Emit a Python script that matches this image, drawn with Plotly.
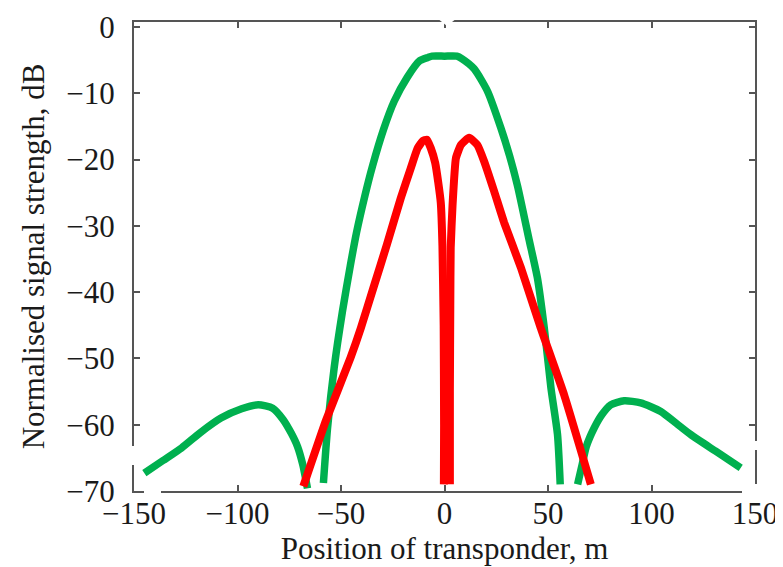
import plotly.graph_objects as go

# ---- data ----
green_left_x = [-145, -136, -127, -118, -108, -98, -90, -83, -78, -74, -71, -68.5, -66.2]
green_left_y = [-67.3, -65.4, -63.5, -61.2, -59.0, -57.6, -57.0, -57.5, -59.2, -61.3, -63.3, -66.0, -69.6]

green_main_x = [-58.5, -56.5, -53.3, -49.3, -45.5, -42.5, -38.5, -34.8, -29.5, -24.3, -18.0, -12.0, -8.0,
                -6.0, 0.0, 6.0, 8.5, 14.3, 20.8, 27.2, 31.5, 35.3, 40.8, 44.9, 48.2, 51.4, 54.6, 55.9]
green_main_y = [-68.8, -60.5, -51.4, -42.9, -36.0, -31.0, -25.5, -21.0, -15.5, -11.2, -7.6, -5.1, -4.6,
                -4.4, -4.4, -4.4, -4.8, -6.3, -9.7, -15.2, -19.5, -24.0, -32.0, -37.9, -45.4, -54.4, -61.5, -69.0]

green_right_x = [64.3, 66.5, 68.5, 72.3, 76.0, 80.3, 86.8, 94.8, 104.5, 112.0, 119.0, 131.0, 143.1]
green_right_y = [-69.0, -66.0, -63.3, -60.5, -58.5, -57.0, -56.4, -56.7, -58.0, -59.8, -61.5, -64.0, -66.5]

red_left_x = [-68.2, -57.3, -45.4, -40.4, -34.0, -27.8, -21.1, -16.3, -13.0, -10.5, -8.5, -6.6, -4.5,
              -3.0, -1.8, -1.0, -0.4, -0.2, -0.3]
red_left_y = [-69.3, -59.4, -49.9, -45.4, -39.0, -32.8, -25.8, -21.3, -18.3, -17.2, -17.0, -18.3, -20.5,
              -23.5, -26.5, -33.0, -45.0, -60.0, -69.0]

red_right_x = [2.6, 2.6, 2.8, 3.0, 3.9, 5.5, 7.9, 11.9, 15.9, 19.2, 24.0, 28.8, 36.9, 46.5, 57.8, 70.7]
red_right_y = [-69.0, -55.0, -42.0, -33.3, -26.8, -19.8, -17.8, -16.7, -17.8, -20.3, -24.8, -29.5,
               -36.3, -45.4, -55.5, -69.0]

x_ticks = [-150, -100, -50, 0, 50, 100, 150]
y_ticks = [0, -10, -20, -30, -40, -50, -60, -70]

GREEN = "#00b04f"
RED = "#ff0000"

fig = go.Figure()
for xs, ys in [(green_left_x, green_left_y), (green_main_x, green_main_y), (green_right_x, green_right_y)]:
    fig.add_trace(go.Scatter(x=xs, y=ys, mode="lines",
                             line=dict(color=GREEN, width=7.5, shape="spline", smoothing=0.6),
                             showlegend=False, hoverinfo="skip"))
for xs, ys in [(red_left_x, red_left_y), (red_right_x, red_right_y)]:
    fig.add_trace(go.Scatter(x=xs, y=ys, mode="lines",
                             line=dict(color=RED, width=8, shape="spline", smoothing=0.4),
                             showlegend=False, hoverinfo="skip"))

font_family = "Liberation Serif, Times New Roman, Times, DejaVu Serif, serif"
axis_common = dict(
    showline=True, linecolor="#555555", linewidth=2, mirror="ticks",
    ticks="inside", ticklen=6, tickwidth=1.5, tickcolor="#555555",
    showgrid=False, zeroline=False,
    tickfont=dict(family=font_family, size=31, color="#1a1a1a"),
)

fig.update_layout(
    width=783, height=567,
    margin=dict(l=126, r=36, t=14, b=84),
    paper_bgcolor="white", plot_bgcolor="white",
    font=dict(family=font_family, color="#1a1a1a"),
    xaxis=dict(range=[-150, 150], tickvals=x_ticks, automargin=False, ticklabelstandoff=-6,
               title=dict(text="Position of transponder, m", standoff=6,
                          font=dict(family=font_family, size=31, color="#1a1a1a")),
               **axis_common),
    yaxis=dict(range=[-70, 0.75], tickvals=y_ticks, automargin=False, ticklabelstandoff=11,
               title=dict(text="Normalised signal strength, dB", standoff=12,
                          font=dict(family=font_family, size=31, color="#1a1a1a")),
               **axis_common),
)

# small white scan artifacts over the frame
def px(xp):
    return (xp - 126) / 621.0

def py(yp):
    return (483 - yp) / 469.0

artifacts = [
    f"M {px(429)} {py(10)} L {px(449)} {py(10)} L {px(439)} {py(18)} Z",
    f"M {px(121)} {py(438)} L {px(131)} {py(438)} L {px(131)} {py(457)} L {px(121)} {py(457)} Z",
    f"M {px(136)} {py(478)} L {px(153)} {py(478)} L {px(153)} {py(490)} L {px(136)} {py(490)} Z",
    f"M {px(742)} {py(433)} L {px(752)} {py(433)} L {px(752)} {py(442)} L {px(742)} {py(442)} Z",
    f"M {px(734)} {py(476)} L {px(760)} {py(476)} L {px(760)} {py(490)} L {px(734)} {py(490)} Z",
]
for p in artifacts:
    fig.add_shape(type="path", path=p, xref="paper", yref="paper",
                  fillcolor="white", line=dict(width=0), layer="above")

fig.write_html("out.html")
